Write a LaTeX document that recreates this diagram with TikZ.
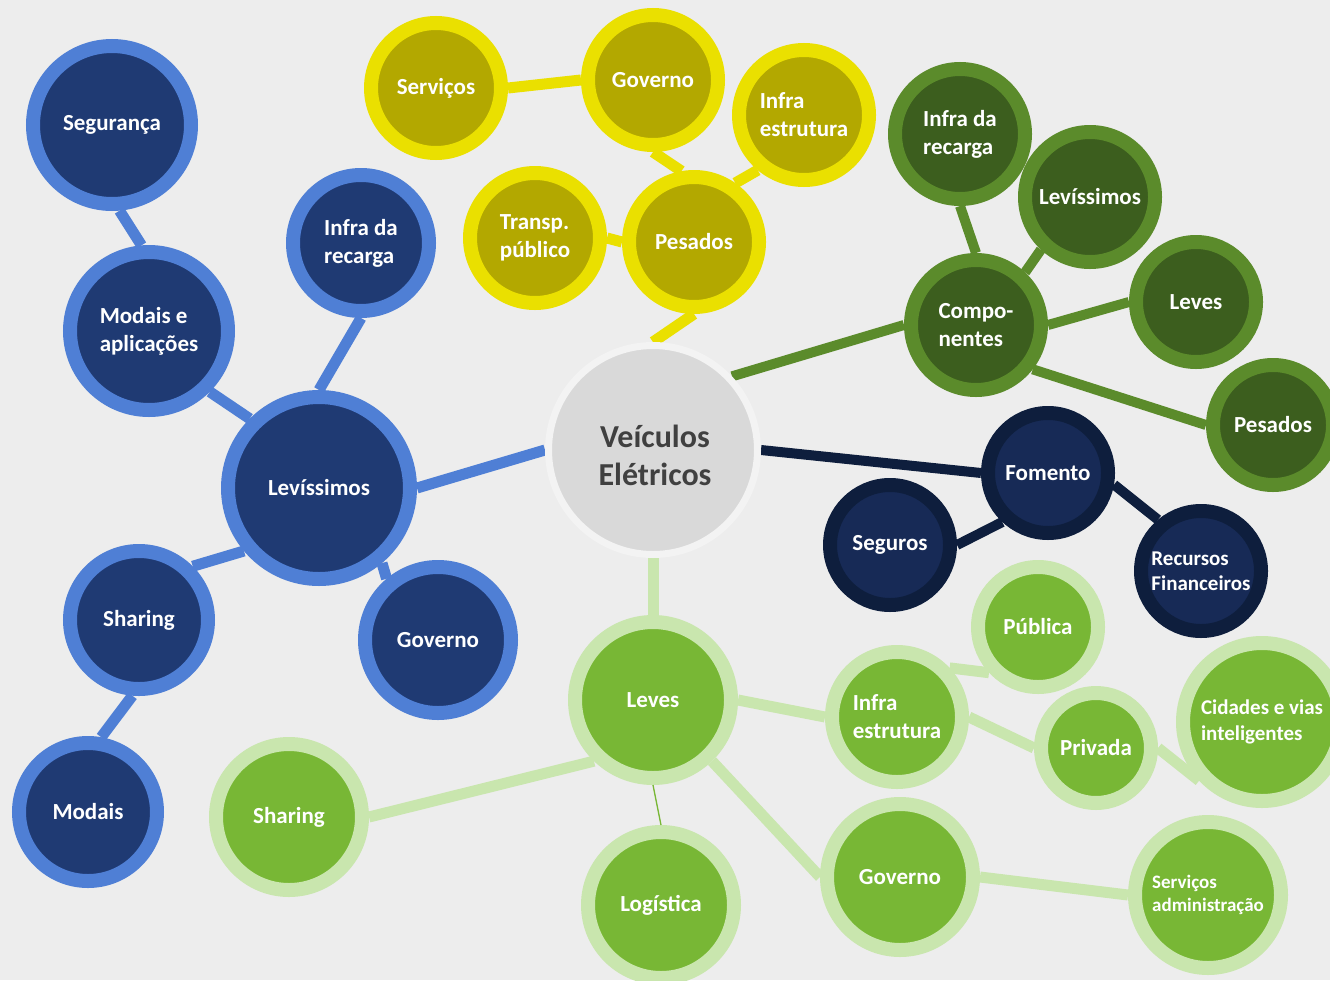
\documentclass[tikz,border=0pt]{standalone}
\usepackage{fontspec}
\setmainfont{Carlito}
\definecolor{bgc}{HTML}{EDEDED}
\definecolor{blueFill}{HTML}{1F3A73}
\definecolor{blueRing}{HTML}{4F7FD5}
\definecolor{yelFill}{HTML}{B3A800}
\definecolor{yelRing}{HTML}{EAE000}
\definecolor{dgFill}{HTML}{3C5E1E}
\definecolor{dgRing}{HTML}{5B8B2B}
\definecolor{navFill}{HTML}{172A56}
\definecolor{navRing}{HTML}{0E1E3D}
\definecolor{lgFill}{HTML}{78B735}
\definecolor{lgRing}{HTML}{C9E6AE}
\definecolor{cenFill}{HTML}{D9D9D9}
\definecolor{cenRing}{HTML}{F3F3F3}
\definecolor{cenText}{HTML}{404040}
\pgfdeclarelayer{bglayer}
\pgfdeclarelayer{linelayer}
\pgfsetlayers{bglayer,linelayer,main}
\begin{document}
\begin{tikzpicture}[x=1pt,y=-1pt,
  bubble/.style={circle, inner sep=0pt, line width=14pt, text=white, align=left,
    font=\bfseries\fontsize{23}{28}\selectfont},
  sz/.style={minimum size={2*#1-14}},
  bnode/.style={bubble, draw=blueRing, fill=blueFill},
  ynode/.style={bubble, draw=yelRing, fill=yelFill},
  gnode/.style={bubble, draw=dgRing, fill=dgFill},
  nnode/.style={bubble, draw=navRing, fill=navFill},
  lnode/.style={bubble, draw=lgRing, fill=lgFill},
  bline/.style={line width=11pt, draw=blueRing},
  yline/.style={line width=11pt, draw=yelRing},
  gline/.style={line width=10pt, draw=dgRing},
  nline/.style={line width=10pt, draw=navRing},
  lline/.style={line width=11pt, draw=lgRing},
  thinline/.style={line width=1.3pt, draw=lgFill},
  censhape/.style={circle, inner sep=0pt, fill=cenFill, draw=cenRing, line width=7pt, minimum size=209},
  centext/.style={text=cenText, align=center, inner sep=0pt, font=\bfseries\fontsize{32}{38}\selectfont}
]
\begin{pgfonlayer}{bglayer}
\fill[bgc] (0,0) rectangle (1330,980);
\end{pgfonlayer}
\useasboundingbox (0,0) rectangle (1330,980);
\clip (0,0) rectangle (1330,980);

% central
\node[censhape] (ve) at (653,450) {};
\node[centext] (vet) at (655,455) {Veículos\\Elétricos};

% blue
\node[bnode,sz=86] (bseg) at (112,125) {Segurança};
\node[bnode,sz=86] (bmod) at (149,331) {Modais e\\aplicações};
\node[bnode,sz=75] (binf) at (361,243) {Infra da\\recarga};
\node[bnode,sz=98] (blev) at (319,488) {Levíssimos};
\node[bnode,sz=76] (bsha) at (139,620) {Sharing};
\node[bnode,sz=80] (bgov) at (438,640) {Governo};
\node[bnode,sz=76] (bmo2) at (88,812) {Modais};

% yellow
\node[ynode,sz=72] (yser) at (436,88) {Serviços};
\node[ynode,sz=72] (ygov) at (653,80) {Governo};
\node[ynode,sz=72] (yinf) at (804,115) {Infra\\estrutura};
\node[ynode,sz=72] (ytra) at (535,238) {Transp.\\público};
\node[ynode,sz=72] (ypes) at (694,242) {Pesados};

% dark green
\node[gnode,sz=72] (ginf) at (960,134) {Infra da\\recarga};
\node[gnode,sz=72] (glev) at (1090,197) {Levíssimos};
\node[gnode,sz=72] (gcom) at (976,325) {Compo-\\nentes};
\node[gnode,sz=67] (glvs) at (1196,302) {Leves};
\node[gnode,sz=67] (gpes) at (1273,425) {Pesados};

% navy
\node[nnode,sz=67] (nfom) at (1048,473) {Fomento};
\node[nnode,sz=67] (nseg) at (890,545) {Seguros};
\node[nnode,sz=67,font=\bfseries\fontsize{21}{25}\selectfont] (nrec) at (1201,571) {Recursos\\Financeiros};

% light green
\node[lnode,sz=85] (llev) at (653,700) {Leves};
\node[lnode,sz=80] (lsha) at (289,817) {Sharing};
\node[lnode,sz=80] (llog) at (661,905) {Logística};
\node[lnode,sz=80] (lgov) at (900,877) {Governo};
\node[lnode,sz=72] (linf) at (897,717) {Infra\\estrutura};
\node[lnode,sz=67] (lpub) at (1038,627) {Pública};
\node[lnode,sz=62] (lpri) at (1096,748) {Privada};
\node[lnode,sz=86,font=\bfseries\fontsize{21}{26}\selectfont] (lcid) at (1262,722) {Cidades e vias\\inteligentes};
\node[lnode,sz=80,font=\bfseries\fontsize{19}{23}\selectfont] (lsad) at (1208,895) {Serviços\\administração};

\begin{pgfonlayer}{linelayer}
% blue
\draw[bline] (ve.west) -- (blev.east);
\draw[bline] (bseg.-85) -- (bmod.95);
\draw[bline] (bmod.south east) -- (blev.north west);
\draw[bline] (binf.south) -- (blev.north);
\draw[bline] (blev.220) -- (bsha.45);
\draw[bline] (blev.-50) -- (bgov.130);
\draw[bline] (bsha.-95) -- (bmo2.80);
% yellow
\draw[yline] (ve.north) -- (ypes.south);
\draw[yline] (yser.east) -- (ygov.west);
\draw[yline] (ygov.south) -- (ypes.100);
\draw[yline] (yinf.-130) -- (ypes.55);
\draw[yline] (ytra.east) -- (ypes.west);
% dark green
\draw[gline] (ve.43) -- (gcom.west);
\draw[gline] (ginf.south) -- (gcom.north);
\draw[gline] (glev.-133) -- (gcom.47);
\draw[gline] (glvs.west) -- (gcom.east);
\draw[gline] (gcom.-38) -- (gpes.west);
% navy
\draw[nline] (ve.east) -- (nfom.west);
\draw[nline] (nfom.-133) -- (nseg.east);
\draw[nline] (nfom.-10) -- (nrec.130);
% light green
\draw[lline] (ve.south) -- (llev.north);
\draw[lline] (llev.-134) -- (lsha.east);
\draw[lline] (llev.-46) -- (lgov.west);
\draw[lline] (llev.east) -- (linf.west);
\draw[lline] (linf.43) -- (lpub.-137);
\draw[lline] (linf.east) -- (lpri.west);
\draw[lline] (lpri.east) -- (lcid.-137);
\draw[lline] (lgov.east) -- (lsad.west);
\end{pgfonlayer}
\draw[thinline] (llev.south) -- (llog.north);
\end{tikzpicture}
\end{document}
